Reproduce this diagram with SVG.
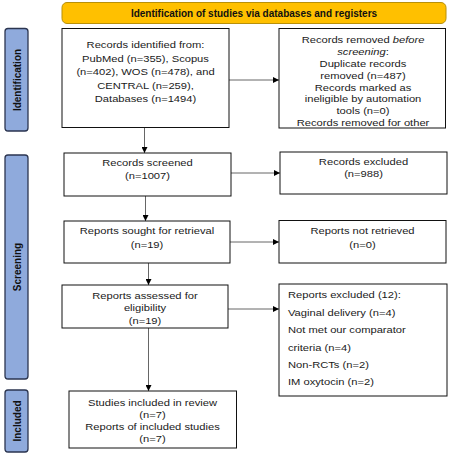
<svg xmlns="http://www.w3.org/2000/svg" width="450" height="454" viewBox="0 0 450 454">
<style>
.box{fill:#fff;stroke:#111;stroke-width:1}
.side{fill:#8faadc;stroke:#2b3550;stroke-width:1.3}
.hdr{fill:#ffc000;stroke:#b8900a;stroke-width:1}
.t{font-family:"Liberation Sans",Arial,sans-serif;font-size:9.3px;fill:#1a1a1a}
.c{text-anchor:middle}
.b{font-family:"Liberation Sans",Arial,sans-serif;font-size:10px;font-weight:bold;fill:#111;text-anchor:middle}
.ln{stroke:#666;stroke-width:1;fill:none}
</style>
<defs>
<marker id="ah" viewBox="0 0 6 6" refX="6" refY="3" markerWidth="6" markerHeight="6" markerUnits="userSpaceOnUse" orient="auto">
<path d="M0,0 L6,3 L0,6 Z" fill="#000"/>
</marker>
</defs>

<g id="header">
<rect class="hdr" x="62" y="2.5" width="384" height="21" rx="5"/>
<text class="b" x="254" y="16.5">Identification of studies via databases and registers</text>
</g>

<g id="side-identification">
<rect class="side" x="5" y="28.5" width="23" height="102.5" rx="3"/>
<text class="b" transform="translate(20.5,80) rotate(-90)">Identification</text>
</g>
<g id="side-screening">
<rect class="side" x="5" y="155" width="23" height="224" rx="3"/>
<text class="b" transform="translate(20.5,267) rotate(-90)">Screening</text>
</g>
<g id="side-included">
<rect class="side" x="5" y="390" width="23" height="62" rx="3"/>
<text class="b" transform="translate(20.5,421) rotate(-90)">Included</text>
</g>

<g id="connectors">
<line class="ln" x1="229" y1="80" x2="279" y2="80" marker-end="url(#ah)"/>
<line class="ln" x1="144.5" y1="127.5" x2="144.5" y2="153" marker-end="url(#ah)"/>
<line class="ln" x1="231" y1="173" x2="280" y2="173" marker-end="url(#ah)"/>
<line class="ln" x1="145.5" y1="196" x2="145.5" y2="221" marker-end="url(#ah)"/>
<line class="ln" x1="230" y1="242" x2="279" y2="242" marker-end="url(#ah)"/>
<line class="ln" x1="148.5" y1="263" x2="148.5" y2="285" marker-end="url(#ah)"/>
<line class="ln" x1="228" y1="309" x2="279" y2="309" marker-end="url(#ah)"/>
<line class="ln" x1="148.5" y1="328" x2="148.5" y2="391" marker-end="url(#ah)"/>
</g>

<g id="records-identified">
<rect class="box" x="62" y="28.5" width="167" height="99"/>
<g transform="translate(145.5,0) scale(1.2,1)">
<text class="t c" x="0" y="48.5">Records identified from:</text>
<text class="t c" x="0" y="62">PubMed (n=355), Scopus</text>
<text class="t c" x="0" y="75.5">(n=402), WOS (n=478), and</text>
<text class="t c" x="0" y="89">CENTRAL (n=259),</text>
<text class="t c" x="0" y="102.5">Databases (n=1494)</text>
</g>
</g>

<g id="records-removed">
<rect class="box" x="279" y="28.5" width="166.5" height="99.5"/>
<g transform="translate(363,0) scale(1.2,1)">
<text class="t c" x="0" y="43">Records removed <tspan font-style="italic">before</tspan></text>
<text class="t c" x="0" y="55"><tspan font-style="italic">screening</tspan>:</text>
<text class="t c" x="0" y="67">Duplicate records</text>
<text class="t c" x="0" y="78.8">removed (n=487)</text>
<text class="t c" x="0" y="90.6">Records marked as</text>
<text class="t c" x="0" y="102.4">ineligible by automation</text>
<text class="t c" x="0" y="114.2">tools (n=0)</text>
<text class="t c" x="0" y="126">Records removed for other</text>
</g>
</g>

<g id="records-screened">
<rect class="box" x="64" y="153" width="167" height="43"/>
<g transform="translate(147.5,0) scale(1.2,1)">
<text class="t c" x="0" y="166.5">Records screened</text>
<text class="t c" x="0" y="179">(n=1007)</text>
</g>
</g>

<g id="records-excluded">
<rect class="box" x="280" y="152" width="167" height="42"/>
<g transform="translate(363.5,0) scale(1.2,1)">
<text class="t c" x="0" y="165.5">Records excluded</text>
<text class="t c" x="0" y="177">(n=988)</text>
</g>
</g>

<g id="reports-sought">
<rect class="box" x="64" y="221" width="166" height="42"/>
<g transform="translate(147,0) scale(1.2,1)">
<text class="t c" x="0" y="234.5">Reports sought for retrieval</text>
<text class="t c" x="0" y="248">(n=19)</text>
</g>
</g>

<g id="reports-not-retrieved">
<rect class="box" x="279" y="220.5" width="167" height="42.5"/>
<g transform="translate(362.5,0) scale(1.2,1)">
<text class="t c" x="0" y="234.5">Reports not retrieved</text>
<text class="t c" x="0" y="248">(n=0)</text>
</g>
</g>

<g id="reports-assessed">
<rect class="box" x="62" y="285" width="166" height="43"/>
<g transform="translate(145,0) scale(1.2,1)">
<text class="t c" x="0" y="299">Reports assessed for</text>
<text class="t c" x="0" y="311.5">eligibility</text>
<text class="t c" x="0" y="324">(n=19)</text>
</g>
</g>

<g id="reports-excluded">
<rect class="box" x="279" y="284" width="168" height="112"/>
<g transform="translate(288,0) scale(1.2,1)">
<text class="t" x="0" y="298.5">Reports excluded (12):</text>
<text class="t" x="0" y="316">Vaginal delivery (n=4)</text>
<text class="t" x="0" y="333.5">Not met our comparator</text>
<text class="t" x="0" y="351">criteria (n=4)</text>
<text class="t" x="0" y="368">Non-RCTs (n=2)</text>
<text class="t" x="0" y="385.5">IM oxytocin (n=2)</text>
</g>
</g>

<g id="studies-included">
<rect class="box" x="69" y="391" width="167.5" height="57"/>
<g transform="translate(152.5,0) scale(1.2,1)">
<text class="t c" x="0" y="406">Studies included in review</text>
<text class="t c" x="0" y="418">(n=7)</text>
<text class="t c" x="0" y="430">Reports of included studies</text>
<text class="t c" x="0" y="442">(n=7)</text>
</g>
</g>
</svg>
